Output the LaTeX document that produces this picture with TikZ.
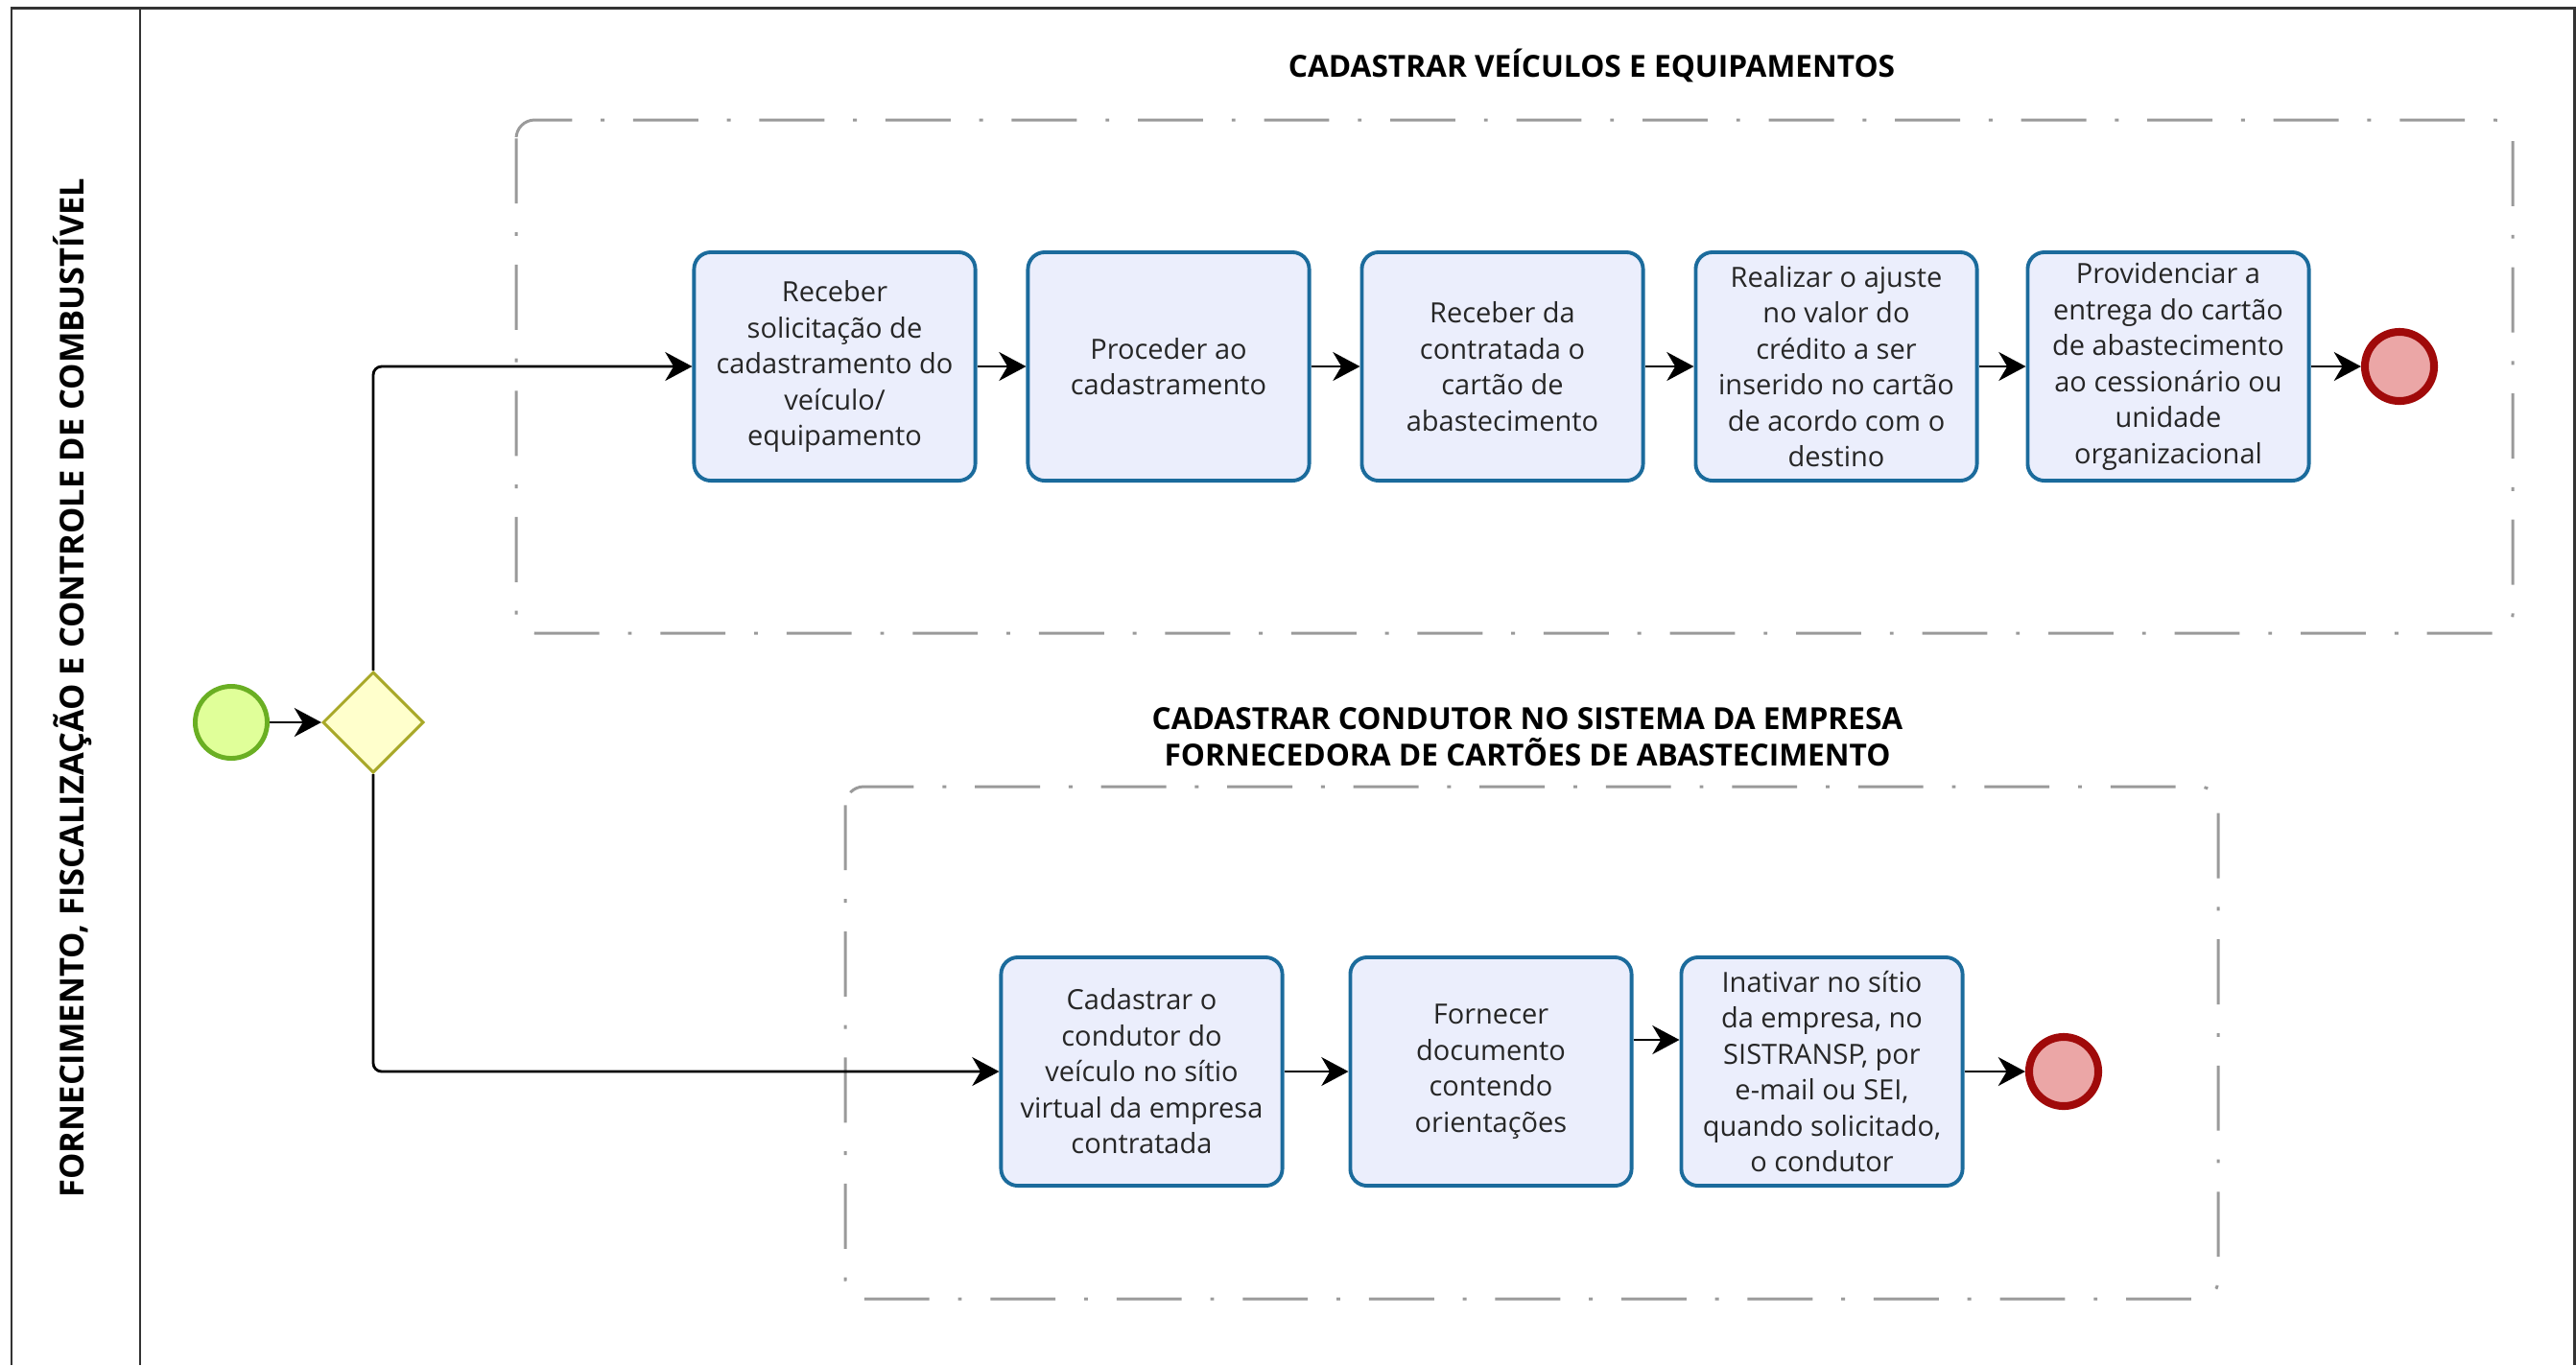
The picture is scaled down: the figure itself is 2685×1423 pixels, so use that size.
\documentclass[tikz,border=0pt]{standalone}
\usepackage{fontspec}
\setmainfont{Open Sans}
\usetikzlibrary{arrows.meta, shapes.geometric, calc}

\definecolor{bordatarefa}{HTML}{1B6B9C}
\definecolor{fundotarefa}{HTML}{EBEEFC}
\definecolor{verdeborda}{HTML}{6AAF23}
\definecolor{verdefundo}{HTML}{E0FF99}
\definecolor{vermborda}{HTML}{A00A0A}
\definecolor{vermfundo}{HTML}{EBA6A6}
\definecolor{amarborda}{HTML}{A8A828}
\definecolor{amarfundo}{HTML}{FFFFCC}
\definecolor{grupo}{HTML}{9A9A9A}

\begin{document}
\begin{tikzpicture}[x=0.01cm, y=-0.01cm,
    tarefa/.style={rectangle, rounded corners=5pt, draw=bordatarefa, fill=fundotarefa,
        line width=1.1pt, minimum width=2.93cm, minimum height=2.38cm, inner sep=0pt,
        align=center, text=black!85, font=\fontsize{8.25}{10.67}\selectfont},
    inicio/.style={circle, draw=verdeborda, fill=verdefundo, line width=1.4pt,
        minimum size=0.75cm, inner sep=0pt},
    fim/.style={circle, draw=vermborda, fill=vermfundo, line width=2.3pt,
        minimum size=0.72cm, inner sep=0pt},
    porta/.style={diamond, draw=amarborda, fill=amarfundo, line width=0.85pt,
        minimum width=1.05cm, minimum height=1.05cm, inner sep=0pt},
    grupobox/.style={draw=grupo, line width=0.85pt, rounded corners=5.5pt,
        dash pattern=on 19.3pt off 8.5pt on 1.1pt off 8.5pt},
    titulo/.style={font=\fontsize{9}{10.8}\selectfont\bfseries, align=center},
    fluxo/.style={line width=0.8pt, rounded corners=2.5pt,
        -{Stealth[length=8pt, width=8.5pt, inset=2.5pt]}}]

    \useasboundingbox (0,0) rectangle (2685,1423);

    % raia
    \draw[line width=0.85pt, black!80] (12,1423) -- (12,8) -- (2683,8) -- (2683,1423);
    \draw[line width=0.85pt, black!80] (146,8) -- (146,1423);
    \node[titulo, font=\fontsize{9.8}{12}\selectfont\bfseries, rotate=90] (raia) at (76,717)
        {FORNECIMENTO, FISCALIZAÇÃO E CONTROLE DE COMBUSTÍVEL};

    % grupos
    \draw[grupobox] (538,125) rectangle (2619,660);
    \draw[grupobox] (881,820) rectangle (2312,1354);
    \node[titulo] (tit1) at (1659,68) {CADASTRAR VEÍCULOS E EQUIPAMENTOS};
    \node[titulo] (tit2) at (1592,768) {CADASTRAR CONDUTOR NO SISTEMA DA EMPRESA\\FORNECEDORA DE CARTÕES DE ABASTECIMENTO};

    % eventos e gateway
    \node[inicio] (ini) at (241,753) {};
    \node[porta] (gw) at (389,753) {};

    % cadastrar veiculos
    \node[tarefa] (r1) at (870,382) {Receber\\solicitação de\\cadastramento do\\veículo/\\equipamento};
    \node[tarefa] (r2) at (1218,382) {Proceder ao\\cadastramento};
    \node[tarefa] (r3) at (1566,382) {Receber da\\contratada o\\cartão de\\abastecimento};
    \node[tarefa] (r4) at (1914,382) {Realizar o ajuste\\no valor do\\crédito a ser\\inserido no cartão\\de acordo com o\\destino};
    \node[tarefa] (r5) at (2260,382) {Providenciar a\\entrega do cartão\\de abastecimento\\ao cessionário ou\\unidade\\organizacional};
    \node[fim] (fim1) at (2501,382) {};

    % cadastrar condutor
    \node[tarefa] (c1) at (1190,1117) {Cadastrar o\\condutor do\\veículo no sítio\\virtual da empresa\\contratada};
    \node[tarefa] (c2) at (1554,1117) {Fornecer\\documento\\contendo\\orientações};
    \node[tarefa] (c3) at (1899,1117) {Inativar no sítio\\da empresa, no\\SISTRANSP, por\\e-mail ou SEI,\\quando solicitado,\\o condutor};
    \node[fim] (fim2) at (2151,1117) {};

    % fluxos
    \draw[fluxo] (ini) -- (gw);
    \draw[fluxo] (gw.north) |- (r1.west);
    \draw[fluxo] (gw.south) |- (c1.west);
    \foreach \a/\b in {r1/r2, r2/r3, r3/r4, r4/r5, r5/fim1, c1/c2, c3/fim2}
        \draw[fluxo] (\a) -- (\b);
    \draw[fluxo] ($(c2.east)+(0,-33)$) -- ($(c3.west)+(0,-33)$);
\end{tikzpicture}
\end{document}
